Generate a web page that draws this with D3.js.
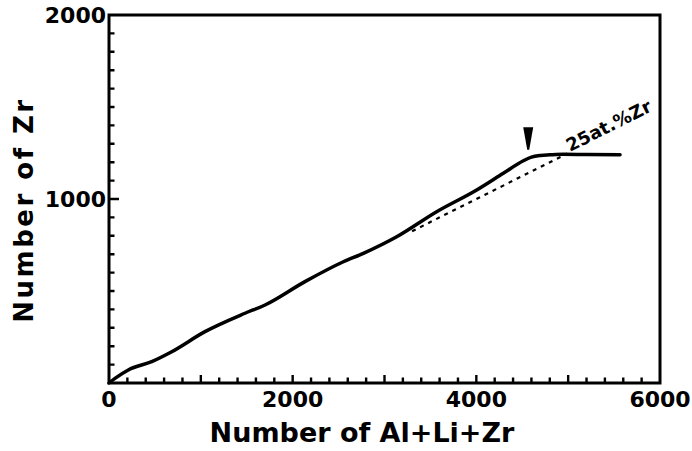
<!DOCTYPE html>
<html><head><meta charset="utf-8">
<script src="https://cdn.jsdelivr.net/npm/d3@7"></script>
<style>body{margin:0;background:#fff}svg{display:block}text{font-family:"DejaVu Sans",sans-serif;font-weight:bold;fill:#000}</style>
</head><body><svg id="c" width="692" height="451"></svg>
<script>
// Data
const solidX = [0, 65, 210, 465, 683, 1045, 1481, 1699, 2134, 2552, 2770, 3133, 3568, 4004, 4294, 4512, 4600, 4700, 4800, 4947, 5200, 5565];
const solidY = [0, 25, 71, 116, 170, 279, 379, 424, 551, 659, 705, 795, 931, 1049, 1140, 1208, 1228, 1237, 1240, 1243, 1242, 1240];
const refX = [3300, 4990];
const refY = [825, 1247];
const refLabel = "25at.%Zr";
const markerX = [4565];
const markerTop = [1390];
const markerTip = [1268];
const xTicks = [0, 2000, 4000, 6000];
const yTicks = [1000, 2000];
const xMinor = d3.range(200, 6000, 200);
const yMinor = d3.range(100, 2000, 100);
const xTitle = "Number of Al+Li+Zr";
const yTitle = "Number of Zr";

const W = 692, H = 451;
const m = {l:109, r:32, t:15, b:68};
const svg = d3.select("#c");
const x = d3.scaleLinear().domain([0,6000]).range([m.l, W-m.r]);
const y = d3.scaleLinear().domain([0,2000]).range([H-m.b, m.t]);

// frame
svg.append("rect").attr("x", x(0)).attr("y", y(2000)).attr("width", x(6000)-x(0)).attr("height", y(0)-y(2000))
  .attr("fill", "none").attr("stroke", "#000").attr("stroke-width", 3);

// ticks (inward) as small paths
const tickPath = [];
xMinor.forEach(d => tickPath.push(`M${x(d)},${y(0)}V${y(0) - (d % 1000 === 0 ? 8 : 5.5)}`));
yMinor.forEach(d => tickPath.push(`M${x(0)},${y(d)}H${x(0) + (d % 1000 === 0 ? 10 : 5.5)}`));
svg.append("path").attr("d", tickPath.join("")).attr("fill", "none")
  .attr("stroke", "#000").attr("stroke-width", 2.4);

// tick labels
svg.append("g").selectAll("text").data(xTicks).join("text")
  .attr("x", d => x(d)).attr("y", y(0) + 24).attr("text-anchor", "middle")
  .attr("font-size", 22).text(d => d);
svg.append("g").selectAll("text").data(yTicks).join("text")
  .attr("x", x(0) - 3).attr("y", d => y(d) + 8).attr("text-anchor", "end")
  .attr("font-size", 22).text(d => d);

// titles
svg.append("text").attr("x", 362).attr("y", 442).attr("text-anchor", "middle")
  .attr("font-size", 27).text(xTitle);
svg.append("text").attr("transform", "translate(33,210) rotate(-90)").attr("text-anchor", "middle")
  .attr("font-size", 26).attr("letter-spacing", 2.5).text(yTitle);

// reference 25% line
const line = d3.line().x(d => x(d[0])).y(d => y(d[1]));
svg.append("path").datum(d3.zip(refX, refY)).attr("d", line)
  .attr("fill", "none").attr("stroke", "#000").attr("stroke-width", 2.2).attr("stroke-dasharray", "4,5");

// solid curve
svg.append("path").datum(d3.zip(solidX, solidY)).attr("d", d3.line().x(d => x(d[0])).y(d => y(d[1])).curve(d3.curveMonotoneX))
  .attr("fill", "none").attr("stroke", "#000").attr("stroke-width", 3.5).attr("stroke-linejoin", "round").attr("stroke-linecap", "round");

// label along line
const ang = Math.atan2(y(refY[1]) - y(refY[0]), x(refX[1]) - x(refX[0])) * 180 / Math.PI;
svg.append("text").attr("transform", `translate(${x(5020)},${y(1255)}) rotate(${ang})`)
  .attr("font-size", 18).text(refLabel);

// marker arrow
markerX.forEach((mx, i) => {
  const px = x(mx), pt = y(markerTop[i]), pb = y(markerTip[i]);
  svg.append("path").attr("d", `M${px-5},${pt} L${px+5},${pt} L${px+1},${pb} L${px-1},${pb} Z`).attr("fill", "#000");
});
</script></body></html>
